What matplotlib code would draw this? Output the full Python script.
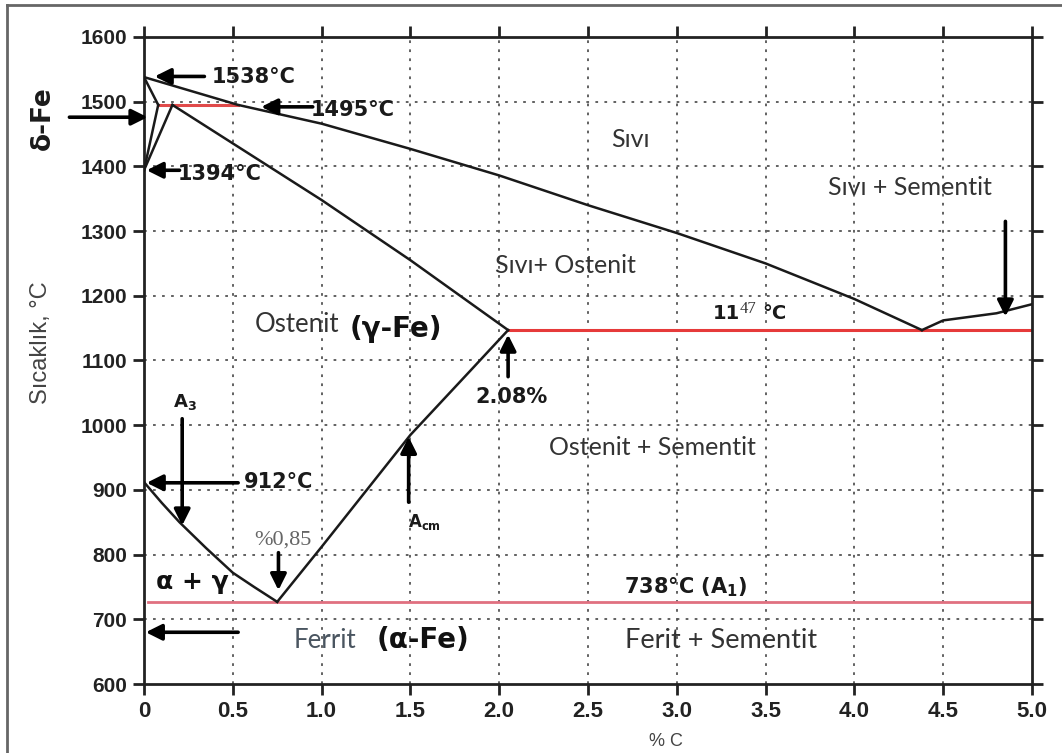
import matplotlib.pyplot as plt
from matplotlib.lines import Line2D

# invariant temperatures of the Fe-C diagram (°C), as drawn
T_MELT = 1538
T_PERITECTIC = 1495
T_DELTA_GAMMA = 1394
T_A3_PURE = 912
T_EUTECTIC = 1147
T_EUTECTOID = 727

# phase boundaries (%C, °C)
liquidus_c = [0.0, 0.53, 1.0, 1.5, 2.0, 2.5, 3.0, 3.5, 4.0, 4.38]
liquidus_t = [1538, 1495, 1466, 1427, 1386, 1340, 1297, 1250, 1195, 1147]
cem_liquidus_c = [4.38, 4.5, 4.8, 5.0]
cem_liquidus_t = [1147, 1162, 1173, 1187]
delta_solidus_c = [0.0, 0.08]
delta_solidus_t = [1538, 1495]
delta_solvus_c = [0.08, 0.0]
delta_solvus_t = [1495, 1394]
gamma_delta_c = [0.16, 0.0]
gamma_delta_t = [1495, 1394]
solidus_c = [0.16, 1.0, 1.5, 2.05]
solidus_t = [1495, 1348, 1255, 1147]
acm_c = [0.75, 1.0, 1.5, 1.84, 2.05]
acm_t = [727, 812, 985, 1085, 1147]
a3_c = [0.0, 0.1, 0.2, 0.35, 0.5, 0.62, 0.75]
a3_t = [912, 880, 850, 810, 772, 750, 727]

# horizontal invariant lines: (start %C, end %C)
peritectic_span = [0.08, 0.53]
eutectic_span = [2.05, 5.0]
eutectoid_span = [0.02, 5.0]

x_ticks = [0, 0.5, 1.0, 1.5, 2.0, 2.5, 3.0, 3.5, 4.0, 4.5, 5.0]
x_tick_labels = ["0", "0.5", "1.0", "1.5", "2.0", "2.5", "3.0", "3.5", "4.0", "4.5", "5.0"]
y_ticks = list(range(600, 1700, 100))

BOLD = ["DejaVu Sans"]
PLAIN = ["Lato", "DejaVu Sans"]
TICK = ["Liberation Sans", "DejaVu Sans"]

fig = plt.figure(figsize=(10.62, 7.53), dpi=100)
ax = fig.add_axes([0.1356, 0.0916, 0.8362, 0.8593])

# grid
grid_kw = dict(color="#555555", lw=1.3, ls=(0, (1.5, 3.5)), zorder=1)
for x in x_ticks[1:-1]:
    ax.axvline(x, **grid_kw)
for y in y_ticks[1:-1]:
    ax.axhline(y, **grid_kw)

# phase boundaries
line_kw = dict(color="#1a1a1a", lw=1.8, zorder=3)
for cs, ts in [(liquidus_c, liquidus_t), (cem_liquidus_c, cem_liquidus_t),
               (delta_solidus_c, delta_solidus_t), (delta_solvus_c, delta_solvus_t),
               (gamma_delta_c, gamma_delta_t), (solidus_c, solidus_t),
               (acm_c, acm_t), (a3_c, a3_t)]:
    ax.plot(cs, ts, **line_kw)

ax.plot(peritectic_span, [T_PERITECTIC] * 2, color="#e04a4a", lw=2.2, zorder=2)
ax.plot(eutectic_span, [T_EUTECTIC] * 2, color="#e63a3a", lw=2.2, zorder=2)
ax.plot(eutectoid_span, [T_EUTECTOID] * 2, color="#e07080", lw=2.0, zorder=2)

ax.set_xlim(0, 5.0)
ax.set_ylim(600, 1600)
ax.set_xticks(x_ticks)
ax.set_xticklabels(x_tick_labels)
ax.set_yticks(y_ticks)
for spine in ax.spines.values():
    spine.set_linewidth(2.0)
    spine.set_color("#222222")
ax.tick_params(direction="out", length=8, width=2, color="#222222",
               top=True, right=True, labelcolor="#222222")
ax.tick_params(axis="x", pad=4)
ax.tick_params(axis="y", pad=4)
for lab in ax.get_xticklabels():
    lab.set_fontfamily(TICK)
    lab.set_fontweight("bold")
    lab.set_fontsize(16)
for lab in ax.get_yticklabels():
    lab.set_fontfamily(TICK)
    lab.set_fontweight("bold")
    lab.set_fontsize(15)

ax.set_ylabel("Sıcaklık, °C", fontsize=17, color="#444444", family=TICK)
ax.yaxis.set_label_coords(-0.104, 0.527)
ax.set_xlabel("% C", fontsize=13, color="#444444", family=TICK)
ax.xaxis.set_label_coords(0.588, -0.075)


def arrow(tip, tail):
    ax.annotate("", xy=tip, xytext=tail, annotation_clip=False, zorder=5,
                arrowprops=dict(arrowstyle="-|>", lw=2.6, color="black",
                                mutation_scale=24, shrinkA=0, shrinkB=0))


# temperature annotations
arrow((0.06, T_MELT + 1), (0.34, T_MELT + 1))
ax.text(0.38, T_MELT, f"{T_MELT}°C", family=BOLD, weight="bold", fontsize=15,
        va="center", color="#1a1a1a")
arrow((0.66, T_PERITECTIC - 3), (0.95, T_PERITECTIC - 3))
ax.text(0.94, T_PERITECTIC - 8, f"{T_PERITECTIC}°C", family=BOLD, weight="bold",
        fontsize=15, va="center", color="#1a1a1a")
arrow((0.015, T_DELTA_GAMMA), (0.2, T_DELTA_GAMMA))
ax.text(0.19, T_DELTA_GAMMA - 5, f"{T_DELTA_GAMMA}°C", family=BOLD, weight="bold",
        fontsize=15, va="center", color="#1a1a1a")
arrow((0.015, T_A3_PURE - 1), (0.53, T_A3_PURE - 1))
ax.text(0.56, T_A3_PURE, f"{T_A3_PURE}°C", family=BOLD, weight="bold", fontsize=15,
        va="center", color="#1a1a1a")

# delta-Fe, outside the frame
arrow((0.02, 1476), (-0.42, 1476))
ax.text(-0.57, 1475, "δ-Fe", family=BOLD, weight="bold", fontsize=19, rotation=90,
        ha="center", va="center", clip_on=False, color="#1a1a1a")

# A3
arrow((0.215, 845), (0.215, 1010))
ax.text(0.23, 1036, "A$_\\mathbf{3}$", family=BOLD, weight="bold", fontsize=13,
        ha="center", va="center", color="#1a1a1a")

# eutectoid composition
arrow((0.757, 745), (0.757, 803))
ax.text(0.78, 823, "%0,85", family=["Liberation Serif"], fontsize=16,
        ha="center", va="center", color="#666666")

# Acm
arrow((1.49, 982), (1.49, 881))
ax.text(1.58, 850, "A$_\\mathbf{cm}$", family=BOLD, weight="bold", fontsize=12,
        ha="center", va="center", color="#1a1a1a")

# 2.08 %
arrow((2.05, 1140), (2.05, 1075))
ax.text(2.07, 1044, "2.08%", family=BOLD, weight="bold", fontsize=15,
        ha="center", va="center", color="#1a1a1a")

# ferrite arrow bottom left
arrow((0.01, 680), (0.53, 680))

# cementite liquidus arrow
arrow((4.85, 1168), (4.85, 1315))

# eutectic temperature label
ax.text(3.20, 1172, "11", family=BOLD, weight="bold", fontsize=14,
        va="center", color="#1a1a1a")
ax.text(3.355, 1180, "47", family=["Liberation Serif"], fontsize=12,
        va="center", color="#333333")
ax.text(3.48, 1172, "°C", family=BOLD, weight="bold", fontsize=14,
        va="center", color="#1a1a1a")

ax.text(3.05, 750, "738°C (A$_\\mathbf{1}$)", family=BOLD, weight="bold", fontsize=15,
        ha="center", va="center", color="#1a1a1a")

# phase regions
ax.text(2.74, 1441, "Sıvı", family=PLAIN, fontsize=18, ha="center", va="center",
        color="#333333")
ax.text(4.31, 1368, "Sıvı + Sementit", family=PLAIN, fontsize=18, ha="center",
        va="center", color="#333333")
ax.text(2.37, 1247, "Sıvı+ Ostenit", family=PLAIN, fontsize=18, ha="center",
        va="center", color="#333333")
ax.text(0.86, 1156, "Ostenit", family=PLAIN, fontsize=18.5, ha="center", va="center",
        color="#333333")
ax.text(1.42, 1149, "(γ-Fe)", family=BOLD, weight="bold", fontsize=20, ha="center",
        va="center", color="#111111")
ax.text(2.86, 966, "Ostenit + Sementit", family=PLAIN, fontsize=18, ha="center",
        va="center", color="#333333")
ax.text(0.27, 758, "α + γ", family=BOLD, weight="bold", fontsize=18, ha="center",
        va="center", color="#111111")
ax.text(1.02, 668, "Ferrit", family=PLAIN, fontsize=18.5, ha="center", va="center",
        color="#4a5560")
ax.text(1.57, 668, "(α-Fe)", family=BOLD, weight="bold", fontsize=20, ha="center",
        va="center", color="#111111")
ax.text(3.25, 668, "Ferit + Sementit", family=PLAIN, fontsize=19.5, ha="center",
        va="center", color="#333333")

# outer frame of the original figure (left and top edges only)
fig.add_artist(Line2D([7 / 1062, 7 / 1062], [0, 1 - 5 / 753], transform=fig.transFigure,
                      color="#666666", lw=2))
fig.add_artist(Line2D([7 / 1062, 1], [1 - 5 / 753, 1 - 5 / 753], transform=fig.transFigure,
                      color="#666666", lw=2))

fig.savefig("out.png", dpi=100)
